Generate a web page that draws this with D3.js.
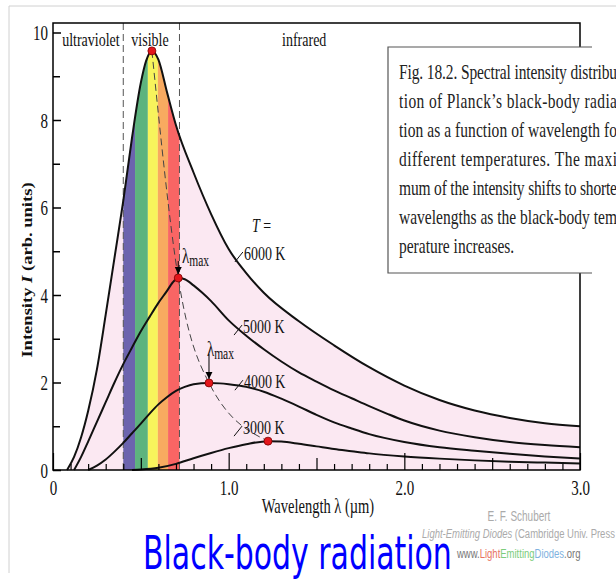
<!DOCTYPE html>
<html>
<head>
<meta charset="utf-8">
<script src="https://cdn.jsdelivr.net/npm/d3@7"></script>
<style>
  body { margin: 0; background: #fff; }
  svg { display: block; }
  svg { font-family: "Liberation Serif", "Times New Roman", serif; }
</style>
</head>
<body>
<svg id="chart" width="616" height="581"></svg>
<script>
// values (wavelength in um, intensity in arb. units)
const lam6000 = [0.08, 0.12, 0.16, 0.2, 0.25, 0.3, 0.35, 0.4, 0.45, 0.5, 0.53, 0.563, 0.6, 0.65, 0.7, 0.8, 0.9, 1.0, 1.1, 1.2, 1.4, 1.6, 1.8, 2.0, 2.2, 2.4, 2.6, 2.8, 3.0];
const int6000 = [0, 0.3, 0.75, 1.35, 2.3, 3.55, 4.85, 6.15, 7.6, 8.85, 9.35, 9.58, 9.38, 8.62, 7.88, 6.8, 5.85, 5.05, 4.5, 4.05, 3.4, 2.85, 2.35, 1.93, 1.6, 1.36, 1.19, 1.07, 1.0];

const lam5000 = [0.12, 0.16, 0.2, 0.25, 0.3, 0.35, 0.4, 0.45, 0.5, 0.55, 0.6, 0.65, 0.68, 0.713, 0.75, 0.8, 0.85, 0.9, 1.0, 1.1, 1.2, 1.3, 1.4, 1.5, 1.6, 1.7, 1.8, 1.9, 2.0, 2.2, 2.4, 2.6, 2.8, 3.0];
const int5000 = [0, 0.3, 0.65, 1.1, 1.55, 2.0, 2.42, 2.8, 3.17, 3.5, 3.82, 4.1, 4.28, 4.39, 4.36, 4.22, 4.05, 3.86, 3.42, 3.07, 2.76, 2.48, 2.23, 2.02, 1.82, 1.64, 1.46, 1.29, 1.13, 0.9, 0.75, 0.64, 0.57, 0.52];

const lam4000 = [0.2, 0.25, 0.3, 0.35, 0.4, 0.45, 0.5, 0.55, 0.6, 0.65, 0.7, 0.75, 0.8, 0.888, 0.95, 1.0, 1.1, 1.2, 1.3, 1.4, 1.5, 1.6, 1.7, 1.8, 2.0, 2.2, 2.4, 2.6, 2.8, 3.0];
const int4000 = [0, 0.1, 0.24, 0.42, 0.62, 0.84, 1.06, 1.29, 1.5, 1.67, 1.81, 1.9, 1.96, 1.99, 1.98, 1.96, 1.9, 1.79, 1.63, 1.45, 1.26, 1.09, 0.95, 0.82, 0.64, 0.52, 0.44, 0.37, 0.31, 0.26];

const lam3000 = [0.45, 0.5, 0.6, 0.7, 0.8, 0.9, 1.0, 1.1, 1.224, 1.3, 1.4, 1.5, 1.6, 1.7, 1.8, 2.0, 2.2, 2.4, 2.6, 2.8, 3.0];
const int3000 = [0, 0.01, 0.05, 0.14, 0.27, 0.39, 0.5, 0.59, 0.66, 0.65, 0.6, 0.54, 0.48, 0.43, 0.38, 0.31, 0.26, 0.22, 0.19, 0.17, 0.15];

// peaks (lambda max) of each curve
const peakLam = [0.563, 0.713, 0.888, 1.224];
const peakInt = [9.58, 4.39, 1.99, 0.66];

// spectrum bands in the visible range
const bandEdges = [0.40, 0.467, 0.54, 0.597, 0.655, 0.72];
const bandColors = ["#6c64ae", "#5db37e", "#f7f45c", "#f8aa60", "#f96564"];
const visibleEdges = [0.40, 0.72];

const regionNames = ["ultraviolet", "visible", "infrared"];
const regionCenters = [0.216, 0.552, 1.43];

const tempNames = ["6000 K", "5000 K", "4000 K", "3000 K"];

const xTickLabels = { 0: "0", 10: "1.0", 20: "2.0", 30: "3.0" };

const captionLines = [
  "Fig. 18.2. Spectral intensity distribu",
  "tion of Planck\u2019s black-body radia",
  "tion as a function of wavelength fo",
  "different temperatures. The maxi",
  "mum of the intensity shifts to shorte",
  "wavelengths as the black-body tem",
  "perature increases."
];

// the source picture is stretched vertically, so the text is too
const SY = 1.4;
const sans = "'Liberation Sans', Arial, sans-serif";

const svg = d3.select("#chart");
const x = d3.scaleLinear().domain([0, 3]).range([53, 580]);
const y = d3.scaleLinear().domain([0, 10]).range([470, 32.5]);
const frameTop = 23;

function stext(parent, px, py, str, size) {
  return parent.append("text")
    .attr("transform", `translate(${px},${py}) scale(1,${SY})`)
    .attr("font-size", size)
    .text(str);
}

// several coloured / styled pieces on one line, each its own text
function pieces(px, py, size, parts) {
  let cx = px;
  parts.forEach(p => {
    const t = stext(svg, cx, py, p.t, size).attr("fill", p.c).style("font-family", sans);
    if (p.i) t.attr("font-style", "italic");
    cx += t.node().getComputedTextLength();
  });
}

// slide border
svg.append("path").attr("d", "M9,573V6H616").attr("fill", "none").attr("stroke", "#d0d0d0");

const toPts = (lam, val) => lam.map((l, i) => [l, val[i]]);
const curves = [toPts(lam6000, int6000), toPts(lam5000, int5000), toPts(lam4000, int4000), toPts(lam3000, int3000)];

const line = d3.line().x(d => x(d[0])).y(d => y(d[1])).curve(d3.curveMonotoneX);
const area = d3.area().x(d => x(d[0])).y0(y(0)).y1(d => y(d[1])).curve(d3.curveMonotoneX);

const defs = svg.append("defs");
defs.append("clipPath").attr("id", "under6000")
  .append("path").attr("d", area(curves[0]));

// arrow head
defs.append("marker")
  .attr("id", "arrow").attr("viewBox", "0 0 8 8").attr("refX", 8).attr("refY", 4)
  .attr("markerWidth", 7).attr("markerHeight", 8).attr("markerUnits", "userSpaceOnUse")
  .attr("orient", "auto")
  .append("path").attr("d", "M0,0L8,4L0,8Z").attr("fill", "#000");

// pink area under the 6000 K curve
svg.append("path").attr("d", area(curves[0])).attr("fill", "#fbe8f2");

// colour bands
svg.append("g").attr("clip-path", "url(#under6000)")
  .selectAll("rect").data(bandColors).join("rect")
  .attr("x", (d, i) => x(bandEdges[i]))
  .attr("width", (d, i) => x(bandEdges[i + 1]) - x(bandEdges[i]))
  .attr("y", frameTop)
  .attr("height", y(0) - frameTop)
  .attr("fill", d => d);

// visible range boundaries
svg.append("g").selectAll("line").data(visibleEdges).join("line")
  .attr("x1", d => x(d)).attr("x2", d => x(d))
  .attr("y1", frameTop).attr("y2", y(0))
  .attr("stroke", "#555").attr("stroke-width", 1).attr("stroke-dasharray", "7,4");

// curves
svg.append("g").selectAll("path").data(curves).join("path")
  .attr("d", line)
  .attr("fill", "none").attr("stroke", "#111").attr("stroke-width", 2);

// Wien locus through the peaks
const peaks = peakLam.map((l, i) => [l, peakInt[i]]);
svg.append("path")
  .attr("d", line(peaks))
  .attr("fill", "none").attr("stroke", "#444").attr("stroke-width", 1).attr("stroke-dasharray", "7,4");

svg.append("g").selectAll("circle").data(peaks).join("circle")
  .attr("cx", d => x(d[0])).attr("cy", d => y(d[1])).attr("r", 4)
  .attr("fill", "#e3161c").attr("stroke", "#7a0000").attr("stroke-width", 0.8);

// frame
svg.append("path")
  .attr("d", `M${x(0)},${frameTop}H${x(3)}V${y(0)}H${x(0)}Z`)
  .attr("fill", "none").attr("stroke", "#000").attr("stroke-width", 1.5);

// x axis
const gx = svg.append("g").attr("transform", `translate(0,${y(0)})`)
  .call(d3.axisBottom(x)
    .tickValues(d3.range(0, 31).map(i => i / 10))
    .tickSizeOuter(0)
    .tickFormat(d => xTickLabels[Math.round(d * 10)] || ""));
gx.select(".domain").remove();
gx.attr("font-family", null).attr("font-size", 15);
gx.selectAll(".tick line")
  .attr("stroke", "#000").attr("stroke-width", 1.2)
  .attr("y2", d => { const k = Math.round(d * 10); return k % 10 === 0 ? -17 : k % 5 === 0 ? -12 : -6; });
gx.selectAll(".tick text")
  .attr("y", null).attr("dy", null).attr("fill", "#111")
  .attr("transform", `translate(0,25) scale(1,${SY})`);

// y axis
const gy = svg.append("g").attr("transform", `translate(${x(0)},0)`)
  .call(d3.axisLeft(y)
    .tickValues(d3.range(0, 11))
    .tickSize(-7)
    .tickPadding(5)
    .tickFormat(d => d % 2 === 0 ? d : ""));
gy.select(".domain").remove();
gy.attr("font-family", null).attr("font-size", 15);
gy.selectAll(".tick line").attr("stroke", "#000").attr("stroke-width", 1.5)
  .attr("x2", d => d % 2 === 0 ? 8 : 7);
gy.selectAll(".tick text")
  .attr("x", null).attr("dy", null).attr("fill", "#111")
  .attr("transform", `translate(-5,7) scale(1,${SY})`);

// axis titles
stext(svg, 318, 513, "Wavelength  \u03bb  (\u00b5m)", 14.5).attr("text-anchor", "middle").attr("fill", "#111");

const yt = svg.append("text")
  .attr("transform", `translate(32,270) rotate(-90) scale(1.28,1)`)
  .attr("text-anchor", "middle").attr("font-size", 14.5).attr("font-weight", "bold").attr("fill", "#111");
yt.append("tspan").text("Intensity ");
yt.append("tspan").attr("font-style", "italic").text("I");
yt.append("tspan").text(" (arb. units)");

// region labels
regionNames.forEach((t, i) => {
  stext(svg, x(regionCenters[i]), 46, t, 14).attr("text-anchor", "middle").attr("fill", "#111");
});

// temperature labels with short leader lines
const tempLabelAt = [[1.081, 4.8], [1.076, 3.13], [1.081, 1.87], [1.076, 0.82]];
tempNames.forEach((t, i) => {
  const px = x(tempLabelAt[i][0]), py = y(tempLabelAt[i][1]);
  stext(svg, px + 1, py, t, 14).attr("fill", "#111");
  svg.append("line")
    .attr("x1", px).attr("y1", py - 8).attr("x2", px - 8).attr("y2", py + 2)
    .attr("stroke", "#111").attr("stroke-width", 1);
});
const tt = stext(svg, x(1.133), y(5.44), "", 14).attr("fill", "#111");
tt.append("tspan").attr("font-style", "italic").text("T");
tt.append("tspan").text(" =");

// lambda max labels and arrows
const lmaxAt = [[1, 0.734, 4.73], [2, 0.876, 2.6]];
lmaxAt.forEach(([pi, l, v]) => {
  const t = stext(svg, x(l), y(v), "", 15).attr("fill", "#111");
  t.append("tspan").text("\u03bb");
  t.append("tspan").attr("font-size", 11.5).attr("dy", 2).text("max");
  svg.append("line")
    .attr("x1", x(peakLam[pi])).attr("x2", x(peakLam[pi]))
    .attr("y1", y(v) - 2).attr("y2", y(peakInt[pi]) - 4)
    .attr("stroke", "#000").attr("stroke-width", 1)
    .attr("marker-end", "url(#arrow)");
});

// caption box
svg.append("rect").attr("x", 388).attr("y", 47).attr("width", 240).attr("height", 226).attr("fill", "#fff");
svg.append("path").attr("d", "M592,47H388V273H592")
  .attr("fill", "none").attr("stroke", "#555").attr("stroke-width", 1.2);
captionLines.forEach((t, i) => {
  const el = stext(svg, 399, 79 + i * 29, t, 15.5).attr("fill", "#222");
  if (i < captionLines.length - 1) el.attr("textLength", 218).attr("lengthAdjust", "spacing");
});

// credits
stext(svg, 519, 521, "E. F. Schubert", 10)
  .attr("text-anchor", "middle").attr("fill", "#aaa").style("font-family", sans);
pieces(422, 538, 9.5, [
  { t: "Light-Emitting Diodes", c: "#aaa", i: true },
  { t: "\u00a0(Cambridge Univ. Press", c: "#aaa" }
]);
pieces(457, 558, 9.5, [
  { t: "www.", c: "#777" },
  { t: "Light", c: "#e8735f" },
  { t: "Emitting", c: "#7ccd7c" },
  { t: "Diodes", c: "#7fb2e0" },
  { t: ".org", c: "#777" }
]);

// title, squeezed horizontally to the width it has in the picture
const title = svg.append("text")
  .style("font-family", "'Liberation Sans Narrow', 'DejaVu Sans Condensed', sans-serif")
  .attr("font-size", 46).attr("fill", "#0000ff")
  .text("Black-body radiation");
const titleW = title.node().getComputedTextLength();
title.attr("transform", `translate(143,569) scale(${309 / titleW},1)`);
</script>
</body>
</html>
